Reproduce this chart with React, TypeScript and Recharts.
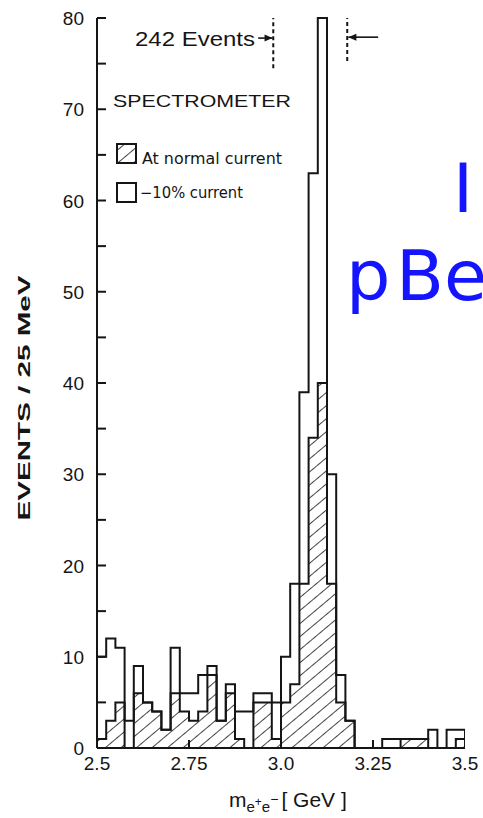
import React from "react";
import { ComposedChart, Area, XAxis, YAxis, ReferenceLine } from "recharts";

// lower edge of each 25 MeV bin (GeV)
const binEdges = [
  2.5, 2.525, 2.55, 2.575, 2.6, 2.625, 2.65, 2.675, 2.7, 2.725,
  2.75, 2.775, 2.8, 2.825, 2.85, 2.875, 2.9, 2.925, 2.95, 2.975,
  3.0, 3.025, 3.05, 3.075, 3.1, 3.125, 3.15, 3.175, 3.2, 3.225,
  3.25, 3.275, 3.3, 3.325, 3.35, 3.375, 3.4, 3.425, 3.45, 3.475,
];
const upperEdge = 3.5;

// -10% current (open histogram)
const openCounts = [
  10, 12, 11, 3, 9, 5, 4, 2, 11, 6,
  6, 8, 9, 3, 7, 4, 4, 6, 6, 5,
  10, 18, 39, 63, 80, 30, 8, 3, 0, 0,
  0, 1, 1, 1, 1, 1, 2, 0, 2, 2,
];

// at normal current (hatched)
const hatchedCounts = [
  1, 3, 5, 0, 6, 5, 4, 2, 6, 4,
  3, 4, 8, 3, 6, 1, 0, 5, 5, 1,
  5, 7, 18, 34, 40, 18, 5, 3, 0, 0,
  0, 0, 0, 1, 1, 1, 0, 0, 0, 1,
];

const xTicks = [2.5, 2.75, 3.0, 3.25, 3.5];
const xTickLabels = ["2.5", "2.75", "3.0", "3.25", "3.5"];
const yTicks = [0, 5, 10, 15, 20, 25, 30, 35, 40, 45, 50, 55, 60, 65, 70, 75, 80];

// "242 Events" window marks
const windowLow = 2.979;
const windowHigh = 3.18;

const chartData = [
  ...binEdges.map((x, i) => ({ x, open: openCounts[i], hatched: hatchedCounts[i] })),
  { x: upperEdge, open: 0, hatched: 0 },
];

const FONT = "'Liberation Sans', Arial, Helvetica, sans-serif";
const NARROW = "'Liberation Sans Narrow', 'DejaVu Sans Condensed', 'Liberation Sans', sans-serif";
const INK = "#151515";

const YTick = (props: any) => {
  const { x, y, payload } = props;
  const v = payload.value;
  return (
    <g>
      <line x1={x} y1={y} x2={x + 9} y2={y} stroke={INK} strokeWidth={2} />
      {v % 10 === 0 && (
        <text x={x - 13} y={y + 7} textAnchor="end" fontSize={19} fill={INK} fontFamily={FONT}>
          {v}
        </text>
      )}
    </g>
  );
};

const XTick = (props: any) => {
  const { x, y, payload } = props;
  const i = xTicks.indexOf(payload.value);
  return (
    <g>
      {i > 0 && i < xTicks.length - 1 && (
        <line x1={x} y1={y} x2={x} y2={y - 8} stroke={INK} strokeWidth={2} />
      )}
      <text x={x} y={y + 22} textAnchor="middle" fontSize={19} fill={INK} fontFamily={FONT}>
        {xTickLabels[i]}
      </text>
    </g>
  );
};

const Arrow = (props: any) => {
  const { x1, y1, x2, y2 } = props;
  const dir = x2 > x1 ? 1 : -1;
  return (
    <g>
      <line x1={x1} y1={y1} x2={x2} y2={y2} stroke={INK} strokeWidth={1.6} />
      <polygon
        points={`${x2},${y2} ${x2 - 8 * dir},${y2 - 3.5} ${x2 - 8 * dir},${y2 + 3.5}`}
        fill={INK}
      />
    </g>
  );
};

export default function App() {
  return (
    <div style={{ position: "absolute", left: 0, top: 0, background: "#fff" }}>
      <ComposedChart
        width={483}
        height={818}
        data={chartData}
        margin={{ top: 18, right: 18, left: 0, bottom: 0 }}
      >
        <defs>
          <pattern
            id="hatch"
            width="10"
            height="10"
            patternUnits="userSpaceOnUse"
            patternTransform="rotate(50)"
          >
            <line x1="0" y1="0" x2="0" y2="10" stroke={INK} strokeWidth="1.6" />
          </pattern>
        </defs>
        <XAxis
          type="number"
          dataKey="x"
          domain={[2.5, 3.5]}
          ticks={xTicks}
          interval={0}
          allowDataOverflow
          height={70}
          tickSize={0}
          tickMargin={0}
          tickLine={false}
          axisLine={{ stroke: INK, strokeWidth: 2 }}
          tick={(p: any) => <XTick {...p} />}
        />
        <YAxis
          type="number"
          domain={[0, 80]}
          ticks={yTicks}
          interval={0}
          width={97}
          tickSize={0}
          tickMargin={0}
          tickLine={false}
          axisLine={{ stroke: INK, strokeWidth: 2 }}
          tick={(p: any) => <YTick {...p} />}
        />
        <Area
          type="stepAfter"
          dataKey="open"
          stroke={INK}
          strokeWidth={2}
          fill="none"
          dot={false}
          activeDot={false}
          isAnimationActive={false}
        />
        <Area
          type="stepAfter"
          dataKey="hatched"
          stroke={INK}
          strokeWidth={2}
          fill="url(#hatch)"
          fillOpacity={1}
          dot={false}
          activeDot={false}
          isAnimationActive={false}
        />
        <ReferenceLine
          segment={[{ x: windowLow, y: 74.5 }, { x: windowLow, y: 80 }]}
          stroke={INK}
          strokeWidth={2}
          strokeDasharray="4 3"
          ifOverflow="visible"
        />
        <ReferenceLine
          segment={[{ x: windowHigh, y: 75.3 }, { x: windowHigh, y: 80 }]}
          stroke={INK}
          strokeWidth={2}
          strokeDasharray="4 3"
          ifOverflow="visible"
        />
        <ReferenceLine
          segment={[{ x: 2.938, y: 77.8 }, { x: windowLow - 0.002, y: 77.8 }]}
          shape={(p: any) => <Arrow {...p} />}
          ifOverflow="visible"
        />
        <ReferenceLine
          segment={[{ x: 3.264, y: 77.9 }, { x: windowHigh + 0.003, y: 77.9 }]}
          shape={(p: any) => <Arrow {...p} />}
          ifOverflow="visible"
        />

        <text x={135} y={46} fontSize={21} fill={INK} fontFamily={FONT} textLength={120} lengthAdjust="spacingAndGlyphs">
          242 Events
        </text>
        <text x={113} y={107} fontSize={17} fill={INK} fontFamily={FONT} textLength={178} lengthAdjust="spacingAndGlyphs">
          SPECTROMETER
        </text>
        <rect x={117} y={144} width={19} height={19} fill="url(#hatch)" stroke={INK} strokeWidth={2} />
        <text x={142} y={164} fontSize={15} fill={INK} fontFamily={NARROW} textLength={140} lengthAdjust="spacingAndGlyphs">
          At normal current
        </text>
        <rect x={117} y={183} width={19} height={19} fill="none" stroke={INK} strokeWidth={2} />
        <text x={140} y={198} fontSize={15} fill={INK} fontFamily={NARROW} textLength={103} lengthAdjust="spacingAndGlyphs">
          −10% current
        </text>

        <text
          transform="translate(30,398) rotate(-90)"
          textAnchor="middle"
          fontSize={17}
          fontWeight="bold"
          fill={INK}
          fontFamily={FONT}
          textLength={245}
          lengthAdjust="spacingAndGlyphs"
        >
          EVENTS / 25 MeV
        </text>

        <text x={229} y={807} fontSize={21} fill={INK} fontFamily={FONT}>
          m
          <tspan fontSize={15} dy={5}>e</tspan>
          <tspan fontSize={12} dy={-6}>+</tspan>
          <tspan fontSize={15} dy={6}>e</tspan>
          <tspan fontSize={14} dy={-8}>−</tspan>
          <tspan fontSize={21} dy={3} dx={3}>[ GeV ]</tspan>
        </text>

        <text x={453} y={212} fontSize={68} fill="#1414ff" fontFamily="'DejaVu Sans', sans-serif">
          I
        </text>
        <text y={300} fontSize={70} fill="#1414ff" fontFamily="'DejaVu Sans', sans-serif">
          <tspan x={346}>p</tspan>
          <tspan x={396}>Be</tspan>
        </text>
      </ComposedChart>
    </div>
  );
}
